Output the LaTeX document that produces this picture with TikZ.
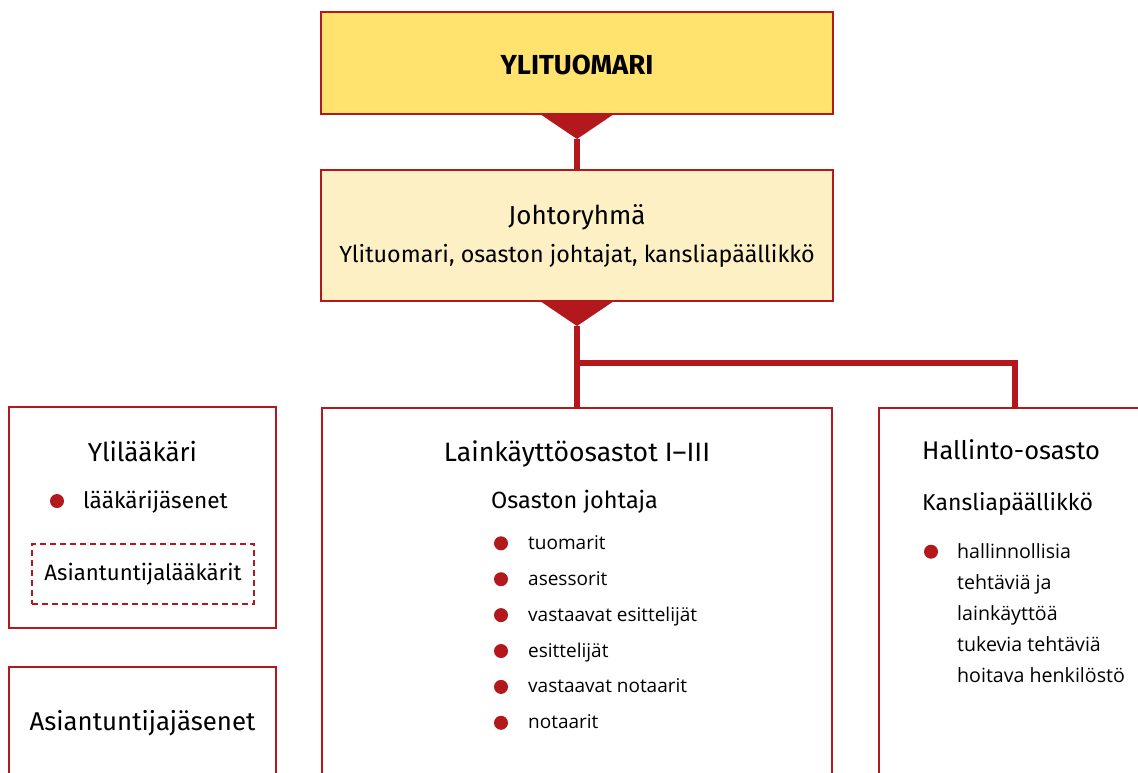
\documentclass[tikz,border=0pt]{standalone}
\usepackage{fontspec}
\setmainfont{Fira Sans}
\newfontfamily\listfont{Open Sans}
\definecolor{brd}{HTML}{B2181C}
\definecolor{topfill}{HTML}{FFE36E}
\definecolor{midfill}{HTML}{FEF0C5}
\begin{document}
\begin{tikzpicture}[x=1pt,y=-1pt,
  box/.style={draw=brd, line width=2pt, rectangle, inner sep=0pt},
  conn/.style={draw=brd, line width=5.5pt},
  tri/.style={fill=brd},
  head/.style={inner sep=0pt, anchor=base, font=\fontsize{26}{30}\selectfont},
  headl/.style={head, anchor=base west},
  sub/.style={inner sep=0pt, anchor=base west, font=\fontsize{23.3}{27}\selectfont},
  item/.style={inner sep=0pt, anchor=base west, font=\listfont\fontsize{19}{23}\selectfont},
  dot/.style={circle, fill=brd, inner sep=0pt, minimum size=14pt},
  dashbox/.style={draw=brd, line width=1.5pt, dash pattern=on 6pt off 4pt, rectangle, inner sep=0pt}
]
\useasboundingbox (0,0) rectangle (1138,772);
\fill[white] (0,0) rectangle (1138,772);

% top boxes
\node[box, fill=topfill, minimum width=512pt, minimum height=102pt] (yt) at (577,63) {};
\node[head, font=\bfseries\fontsize{27.5}{31}\selectfont] (ytt) at (577,74) {YLITUOMARI};

\node[box, fill=midfill, minimum width=512pt, minimum height=131pt] (jr) at (577,235.5) {};
\node[head] (jrt) at (577,224) {Johtoryhmä};
\node[head, font=\fontsize{23.3}{27}\selectfont] (jrs) at (577,262) {Ylituomari, osaston johtajat, kansliapäällikkö};

% lower boxes
\node[box, minimum width=267pt, minimum height=221pt] (yl) at (142.5,517.5) {};
\node[box, minimum width=267pt, minimum height=140pt] (as) at (142.5,737) {};
\node[box, minimum width=510pt, minimum height=400pt] (lk) at (577,607.5) {};
\node[box, minimum width=300pt, minimum height=400pt] (ha) at (1029,607.5) {};

% triangles and connectors
\coordinate (a1) at ([yshift=-24pt]yt.south);
\fill[tri] ([xshift=-37pt,yshift=1pt]yt.south) -- ([xshift=37pt,yshift=1pt]yt.south) -- (a1) -- cycle;
\draw[conn] (a1) -- (jr.north);

\coordinate (a2) at ([yshift=-24pt]jr.south);
\fill[tri] ([xshift=-37pt,yshift=1pt]jr.south) -- ([xshift=37pt,yshift=1pt]jr.south) -- (a2) -- cycle;
\coordinate (br) at (577,363);
\coordinate (hatop) at (1015,407);
\draw[conn] (a2) -- (lk.north);
\draw[conn] (br) -- (1015,363) -- (hatop);

% Ylilaakari box
\node[head] (ylt) at (142.5,461) {Ylilääkäri};
\node[dot] (yld) at (57,501) {};
\node[headl, font=\fontsize{22.6}{27}\selectfont] (yli) at (83,508) {lääkärijäsenet};
\node[dashbox, minimum width=222pt, minimum height=60pt] (dbx) at (143,574) {};
\node[inner sep=0pt, anchor=base, font=\fontsize{22.2}{26}\selectfont] (dbt) at (143,580) {Asiantuntijalääkärit};

% Asiantuntijajasenet
\node[head, font=\fontsize{25.8}{30}\selectfont] (ast) at (142.5,730) {Asiantuntijajäsenet};

% Lainkayttoosastot
\node[head, font=\fontsize{26.6}{30}\selectfont] (lkt) at (577,461) {Lainkäyttöosastot I–III};
\node[sub, font=\fontsize{23.5}{27}\selectfont] (lks) at (491,508) {Osaston johtaja};
\foreach \t [count=\i] in {tuomarit, asessorit, vastaavat esittelijät, esittelijät, vastaavat notaarit, notaarit}{
  \node[dot] (lkd\i) at (501,{549.3+35.9*(\i-1)-6}) {};
  \node[item] (lki\i) at (528,{549.3+35.9*(\i-1)}) {\t};
}

% Hallinto-osasto
\node[headl, font=\fontsize{25.5}{30}\selectfont] (hat) at (922,459) {Hallinto-osasto};
\node[sub, font=\fontsize{23}{27}\selectfont] (has) at (922,510) {Kansliapäällikkö};
\node[dot] (had) at (931,551.7) {};
\foreach \t [count=\i] in {hallinnollisia, tehtäviä ja, lainkäyttöä, tukevia tehtäviä, hoitava henkilöstö}{
  \node[item, font=\listfont\fontsize{19.6}{23}\selectfont] (hai\i) at (957,{558+31.2*(\i-1)}) {\t};
}
\end{tikzpicture}
\end{document}
